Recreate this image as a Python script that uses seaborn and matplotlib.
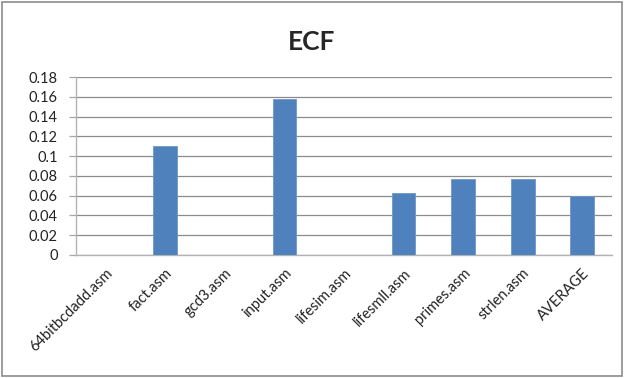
'''
ECF bar chart per benchmark file.
'''
import matplotlib
matplotlib.use('Agg')
import matplotlib.pyplot as plt
from matplotlib.patches import Rectangle
import seaborn as sns

files = ['64bitbcdadd.asm', 'fact.asm', 'gcd3.asm', 'input.asm', 'lifesim.asm',
         'lifesmll.asm', 'primes.asm', 'strlen.asm', 'AVERAGE']
ecf = [0.0, 0.110, 0.0, 0.158, 0.0, 0.063, 0.077, 0.077, 0.060]
yticks = [0, 0.02, 0.04, 0.06, 0.08, 0.1, 0.12, 0.14, 0.16, 0.18]
ytick_labels = ['0', '0.02', '0.04', '0.06', '0.08', '0.1', '0.12', '0.14', '0.16', '0.18']

sns.set_style('white')
plt.rcParams['font.family'] = ['Lato', 'DejaVu Sans']

fig = plt.figure(figsize=(6.24, 3.78), dpi=100)
ax = fig.add_axes([76 / 624, 1 - 255 / 378, (612 - 76) / 624, (255 - 77) / 378])

sns.barplot(x=files, y=ecf, color='#4f81bd', saturation=1, width=0.4,
            edgecolor='#6f97c8', linewidth=0.6, ax=ax, zorder=3)

ax.set_ylim(0, 0.18)
ax.set_xlim(-0.5, len(files) - 0.5)
ax.set_yticks(yticks)
ax.set_yticklabels(ytick_labels, fontsize=10.5, color='#222222')
ax.yaxis.grid(True, color='#8c8c8c', linewidth=0.9, zorder=0)
ax.set_axisbelow(True)

# category boundary ticks on x
ax.set_xticks([i - 0.5 for i in range(len(files) + 1)], minor=True)
ax.tick_params(axis='x', which='minor', length=5, width=0.9, color='#a6a6a6', direction='out')
ax.set_xticks(range(len(files)))
ax.set_xticklabels(files, rotation=45, ha='right', rotation_mode='anchor',
                   fontsize=10.5, color='#222222')
ax.tick_params(axis='x', which='major', length=0, pad=8)
ax.tick_params(axis='y', length=5, width=0.9, color='#a6a6a6', left=True, pad=8)

for side in ['top', 'right']:
    ax.spines[side].set_visible(False)
for side in ['left', 'bottom']:
    ax.spines[side].set_color('#b3b3b3')
    ax.spines[side].set_linewidth(1.0)

fig.text(0.5, 1 - 42 / 378, 'ECF', ha='center', va='center', fontsize=19, fontweight='bold')

fig.patches.append(Rectangle((0.003, 0.004), 0.994, 0.99, transform=fig.transFigure,
                             fill=False, edgecolor='#8c8c8c', linewidth=1.2))

fig.savefig('out.png', dpi=100)
